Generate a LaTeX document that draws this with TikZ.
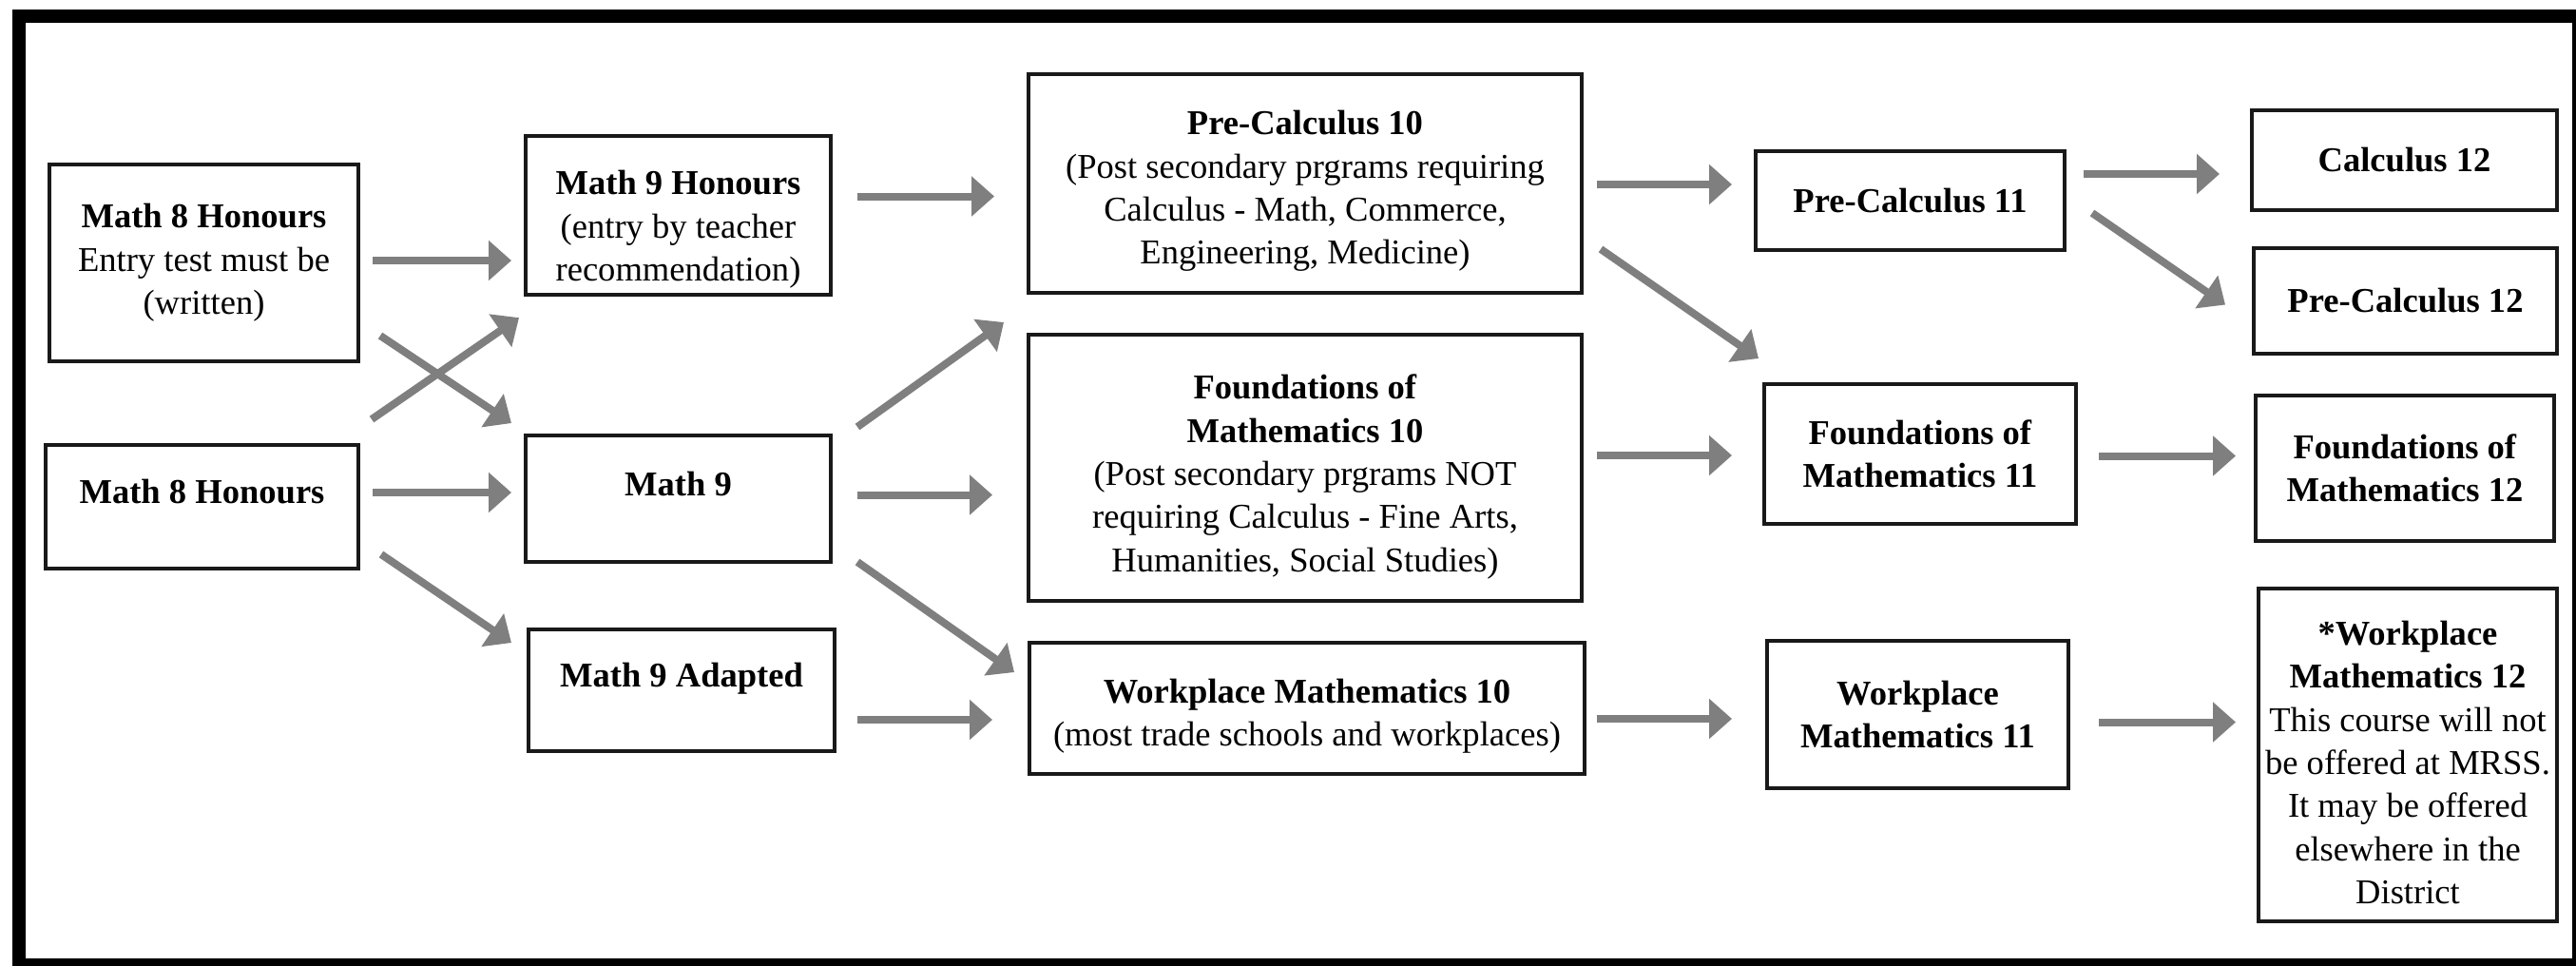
\documentclass[tikz,border=0pt]{standalone}
\usepackage{fontspec}
\setmainfont{Liberation Serif}
\usepackage{tikz}
\usetikzlibrary{arrows.meta, positioning}
\definecolor{arrowgray}{RGB}{127,127,127}
\definecolor{boxline}{RGB}{25,25,25}

\begin{document}
\begin{tikzpicture}[course node/.style={rectangle,draw=boxline,line width=0.04cm,
                      align=center,inner sep=2pt,
                      font=\fontsize{10.4}{12.9}\selectfont},
                    high text/.style={text height=7pt,text depth=9pt},
                    flow/.style={-{Triangle[length=6.8pt,width=11.6pt]},draw,color=arrowgray,
                      line width=0.08cm,shorten <=0.13cm,shorten >=0.13cm}
                    ]
  \path[use as bounding box, clip] (0,0) rectangle (27.1,-10.15);
  \draw[line width=0.14cm] (0.195,-0.17) rectangle (27.13,-10.15);

  % grade 8
  \node[course node, minimum width=3.25cm, minimum height=2.07cm] (m8a) at (2.145,-2.765)
    {\textbf{Math 8 Honours}\\Entry test must be\\(written)};
  \node[course node, high text, minimum width=3.29cm, minimum height=1.30cm] (m8b)
    [below of=m8a, node distance=2.565cm, xshift=-0.02cm] {\textbf{Math 8 Honours}};

  % grade 9
  \node[course node, minimum width=3.21cm, minimum height=1.63cm] (m9h) at (7.135,-2.265)
    {\rule{0pt}{15.6pt}\textbf{Math 9 Honours}\\(entry by teacher\\recommendation)};
  \node[course node, high text, minimum width=3.21cm, minimum height=1.33cm] (m9)
    [below of=m9h, node distance=2.98cm] {\textbf{Math 9}};
  \node[course node, high text, minimum width=3.22cm, minimum height=1.28cm] (m9a)
    [below of=m9, node distance=2.015cm, xshift=0.035cm] {\textbf{Math 9 Adapted}};

  % grade 10
  \node[course node, minimum width=5.82cm, minimum height=2.30cm] (pc10) at (13.73,-1.93)
    {\rule{0pt}{11.8pt}\textbf{Pre-Calculus 10}\\(Post secondary prgrams requiring\\Calculus - Math, Commerce,\\Engineering, Medicine)};
  \node[course node, minimum width=5.82cm, minimum height=2.80cm] (f10)
    [below of=pc10, node distance=2.99cm]
    {\rule{0pt}{12.8pt}\textbf{Foundations of}\\\textbf{Mathematics 10}\\(Post secondary prgrams NOT\\requiring Calculus - Fine Arts,\\Humanities, Social Studies)};
  \node[course node, minimum width=5.84cm, minimum height=1.38cm] (w10)
    [below of=f10, node distance=2.53cm, xshift=0.02cm]
    {\rule{0pt}{11.8pt}\textbf{Workplace Mathematics 10}\\(most trade schools and workplaces)};

  % grade 11
  \node[course node, minimum width=3.25cm, minimum height=1.04cm] (pc11) at (20.095,-2.11)
    {\textbf{Pre-Calculus 11}};
  \node[course node, minimum width=3.28cm, minimum height=1.47cm] (f11)
    [below of=pc11, node distance=2.665cm, xshift=0.105cm]
    {\textbf{Foundations of}\\\textbf{Mathematics 11}};
  \node[course node, minimum width=3.17cm, minimum height=1.55cm] (w11)
    [below of=f11, node distance=2.74cm, xshift=-0.025cm]
    {\textbf{Workplace}\\\textbf{Mathematics 11}};

  % grade 12
  \node[course node, minimum width=3.21cm, minimum height=1.05cm] (c12) at (25.295,-1.685)
    {\textbf{Calculus 12}};
  \node[course node, minimum width=3.19cm, minimum height=1.11cm] (pc12)
    [below of=c12, node distance=1.48cm, xshift=0.01cm] {\textbf{Pre-Calculus 12}};
  \node[course node, minimum width=3.14cm, minimum height=1.53cm] (f12)
    [below of=pc12, node distance=1.76cm, xshift=-0.005cm]
    {\textbf{Foundations of}\\\textbf{Mathematics 12}};
  \node[course node, inner xsep=1pt, minimum width=3.14cm, minimum height=3.50cm] (w12)
    [below of=f12, node distance=3.015cm, xshift=0.03cm]
    {\rule{0pt}{11.8pt}\textbf{*Workplace}\\\textbf{Mathematics 12}\\This course will not\\be offered at MRSS.\\It may be offered\\elsewhere in the\\District};

  \path[every edge/.style={flow}]
    ([yshift=0.025cm]m8a.east) edge ([yshift=0.025cm]m8a.east -| m9h.west)
    ([shift={(0.21,0.29)}]m8a.south east) edge[shorten <=0pt,shorten >=0pt] ([shift={(-0.13,0.11)}]m9.north west)
    ([shift={(0.12,0.25)}]m8b.north east) edge[shorten <=0pt,shorten >=0pt] ([shift={(-0.05,-0.22)}]m9h.south west)
    ([yshift=0.15cm]m8b.east) edge ([yshift=0.15cm]m8b.east -| m9.west)
    ([shift={(0.22,0.17)}]m8b.south east) edge[shorten <=0pt,shorten >=0pt] ([shift={(-0.16,-0.16)}]m9a.north west)
    ([yshift=0.20cm]m9h.east) edge[shorten <=0.26cm,shorten >=0.34cm] ([yshift=0.20cm]m9h.east -| pc10.west)
    ([shift={(0.26,0.07)}]m9.north east) edge[shorten <=0pt,shorten >=0pt] ([shift={(-0.24,-0.29)}]pc10.south west)
    ([yshift=0.04cm]m9.east) edge[shorten <=0.26cm,shorten >=0.36cm] ([yshift=0.04cm]m9.east -| f10.west)
    ([shift={(0.26,0.02)}]m9.south east) edge[shorten <=0pt,shorten >=0pt] ([shift={(-0.14,-0.33)}]w10.north west)
    ([yshift=-0.31cm]m9a.east) edge[shorten <=0.22cm,shorten >=0.37cm] ([yshift=-0.31cm]m9a.east -| w10.west)
    ([yshift=-0.01cm]pc10.east) edge[shorten <=0.14cm,shorten >=0.23cm] ([yshift=-0.01cm]pc10.east -| pc11.west)
    ([shift={(0.18,0.48)}]pc10.south east) edge[shorten <=0pt,shorten >=0pt] ([shift={(-0.04,0.25)}]f11.north west)
    ([yshift=0.13cm]f10.east) edge[shorten <=0.14cm,shorten >=0.32cm] ([yshift=0.13cm]f10.east -| f11.west)
    ([yshift=-0.11cm]w10.east) edge[shorten <=0.11cm,shorten >=0.35cm] ([yshift=-0.11cm]w10.east -| w11.west)
    ([yshift=0.28cm]pc11.east) edge[shorten <=0.18cm,shorten >=0.32cm] ([yshift=0.28cm]pc11.east -| c12.west)
    ([shift={(0.27,0.41)}]pc11.south east) edge[shorten <=0pt,shorten >=0pt] ([shift={(-0.28,-0.04)}]pc12.west)
    ([yshift=-0.02cm]f11.east) edge[shorten <=0.22cm,shorten >=0.19cm] ([yshift=-0.02cm]f11.east -| f12.west)
    ([yshift=-0.08cm]w11.east) edge[shorten <=0.30cm,shorten >=0.22cm] ([yshift=-0.08cm]w11.east -| w12.west);
\end{tikzpicture}
\end{document}
